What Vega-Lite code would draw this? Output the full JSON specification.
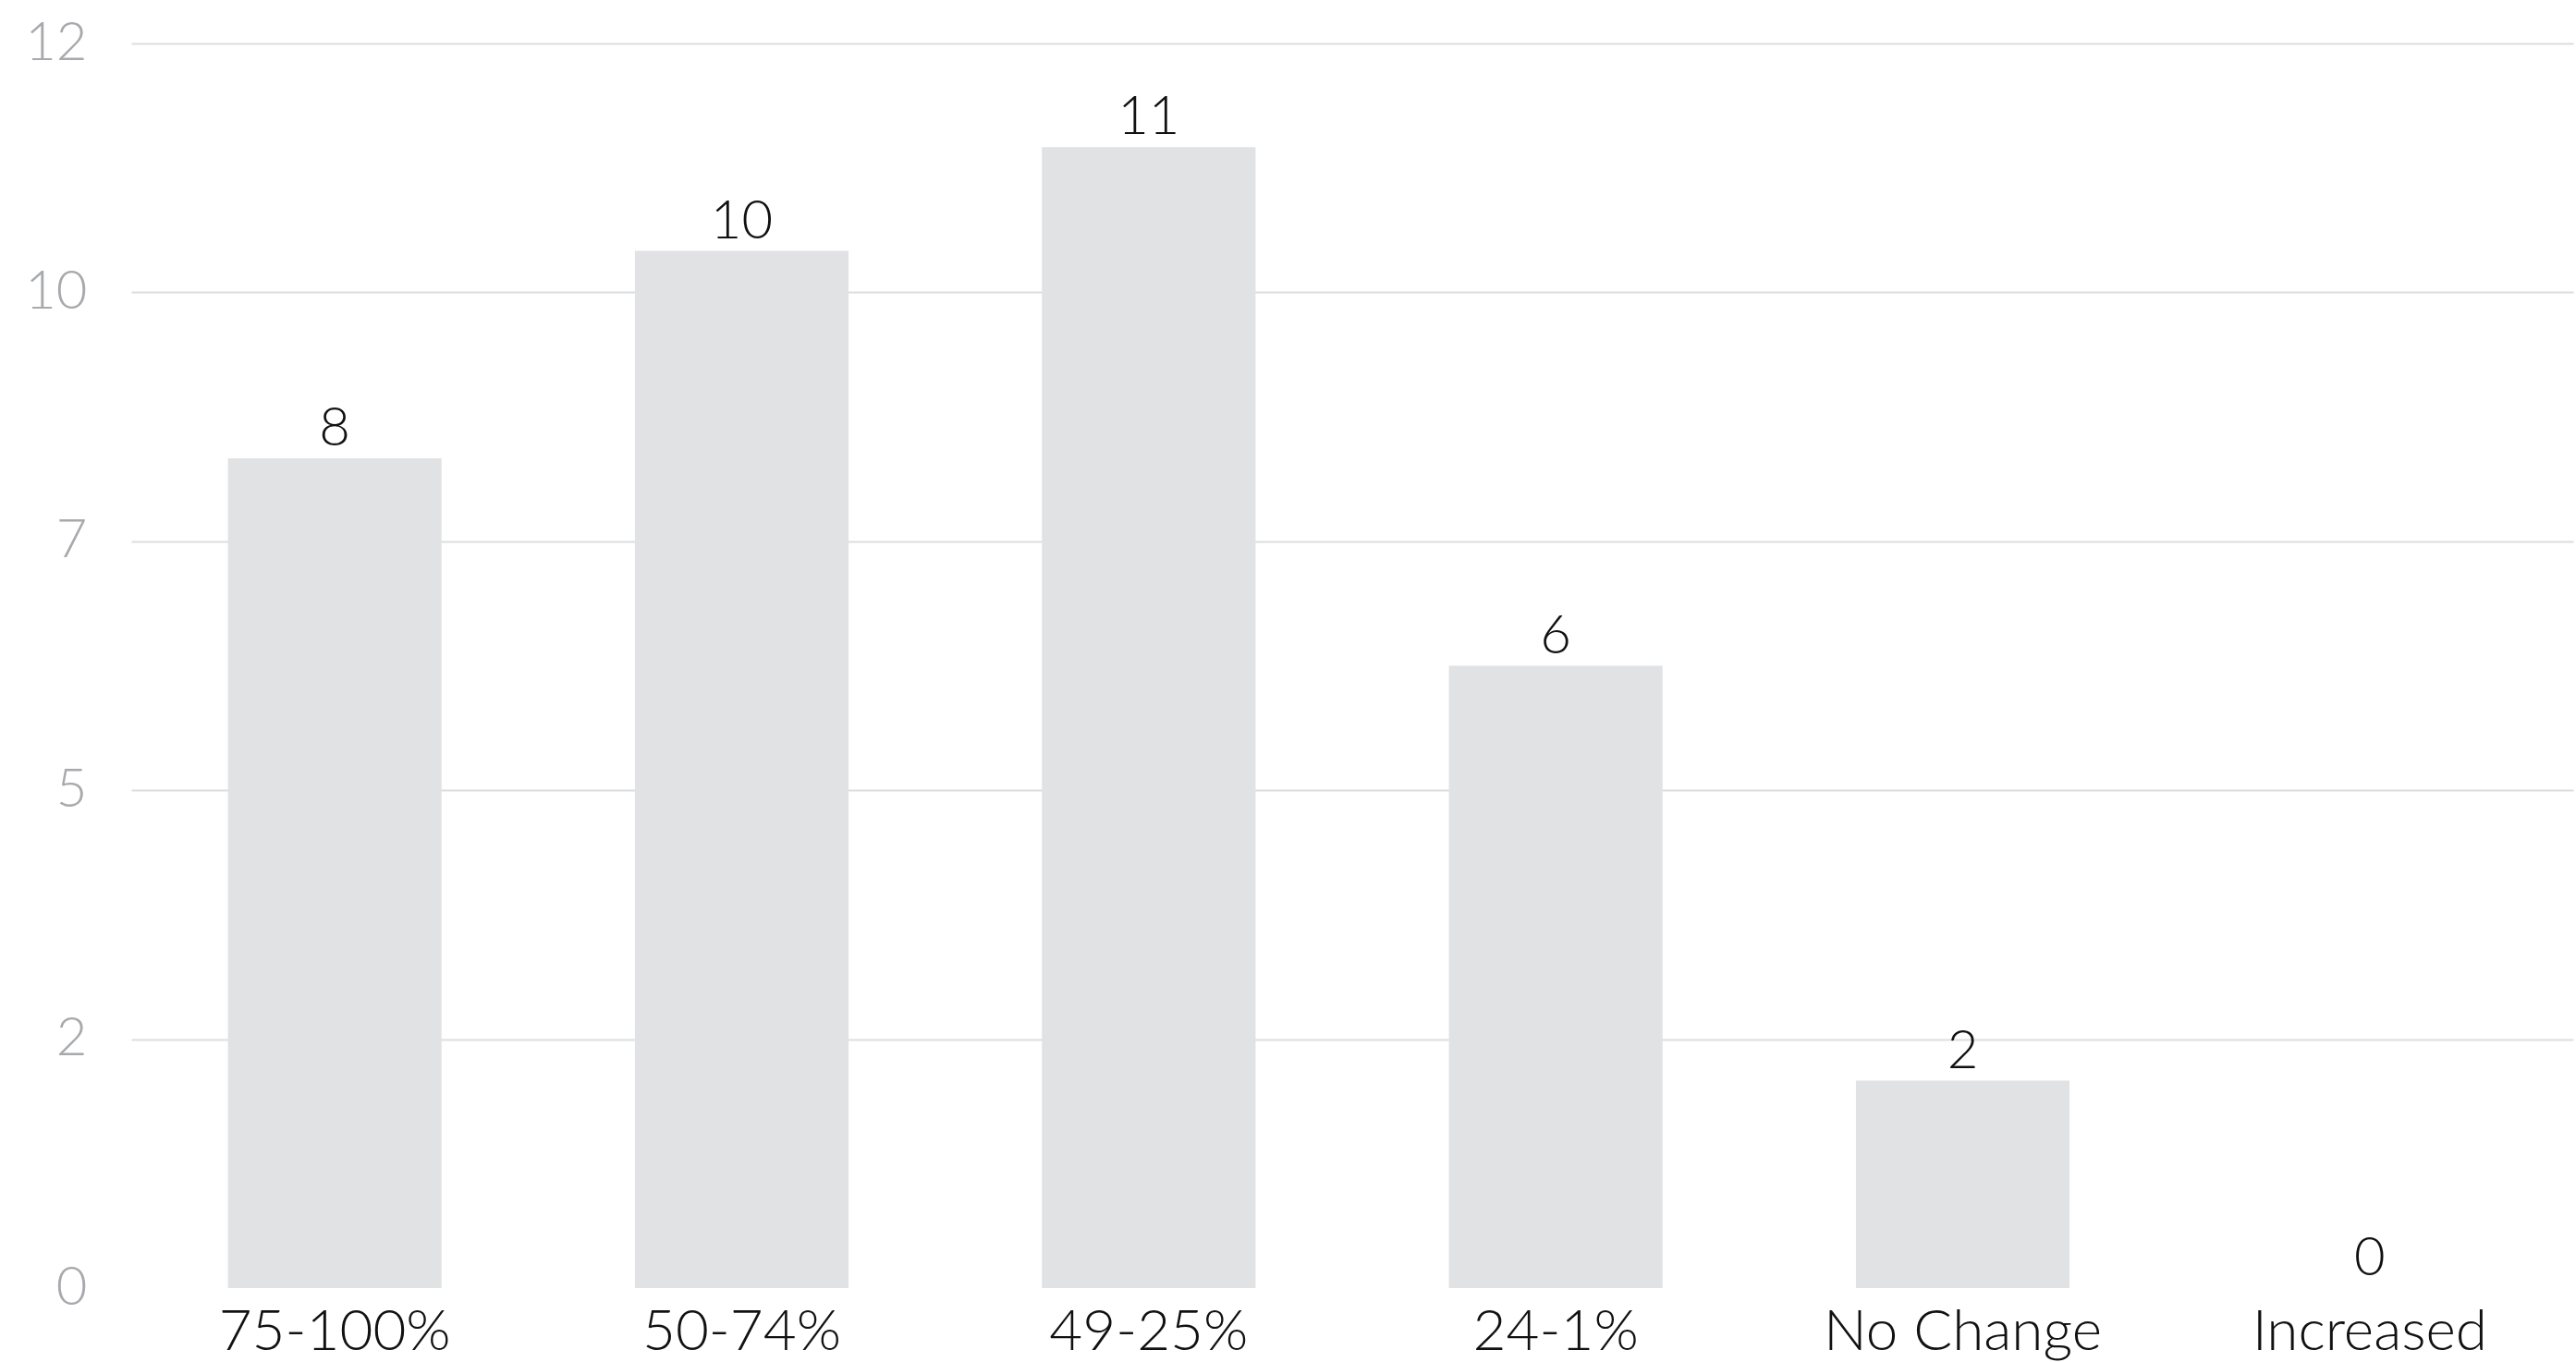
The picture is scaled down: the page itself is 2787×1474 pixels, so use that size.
{
  "$schema": "https://vega.github.io/schema/vega-lite/v6.json",
  "width": 2642,
  "height": 1347,
  "autosize": {"type": "none"},
  "padding": {"left": 142, "top": 47, "right": 3, "bottom": 80},
  "background": "white",
  "config": {
    "view": {"stroke": null},
    "font": "Lato"
  },
  "data": {
    "values": [
      {"change": "75-100%", "count": 8},
      {"change": "50-74%", "count": 10},
      {"change": "49-25%", "count": 11},
      {"change": "24-1%", "count": 6},
      {"change": "No Change", "count": 2},
      {"change": "Increased", "count": 0}
    ]
  },
  "encoding": {
    "x": {
      "field": "change",
      "type": "nominal",
      "sort": null,
      "scale": {"paddingInner": 0.475, "paddingOuter": 0.2375},
      "axis": {
        "title": null,
        "domain": false,
        "ticks": false,
        "labelAngle": 0,
        "labelLimit": 0,
        "labelFont": "Lato",
        "labelFontWeight": 300,
        "labelFontSize": 62,
        "labelColor": "#111111",
        "labelPadding": 17,
        "labelBaseline": "top"
      }
    },
    "y": {
      "field": "count",
      "type": "quantitative",
      "scale": {"domain": [0, 12], "nice": false},
      "axis": {
        "title": null,
        "domain": false,
        "ticks": false,
        "values": [0, 2.4, 4.8, 7.2, 9.6, 12],
        "format": ".0f",
        "labelFont": "Lato",
        "labelFontWeight": 300,
        "labelFontSize": 58,
        "labelColor": "#a7a9ac",
        "labelPadding": 48,
        "gridColor": {"condition": {"test": "datum.value === 0", "value": "transparent"}, "value": "#dcdddf"},
        "gridWidth": 2
      }
    }
  },
  "layer": [
    {"mark": {"type": "bar", "color": "#e1e2e4"}},
    {
      "mark": {
        "type": "text",
        "baseline": "alphabetic",
        "dy": -14,
        "font": "Lato",
        "fontWeight": 300,
        "fontSize": 58,
        "color": "#111111"
      },
      "encoding": {"text": {"field": "count", "type": "quantitative"}}
    }
  ]
}
